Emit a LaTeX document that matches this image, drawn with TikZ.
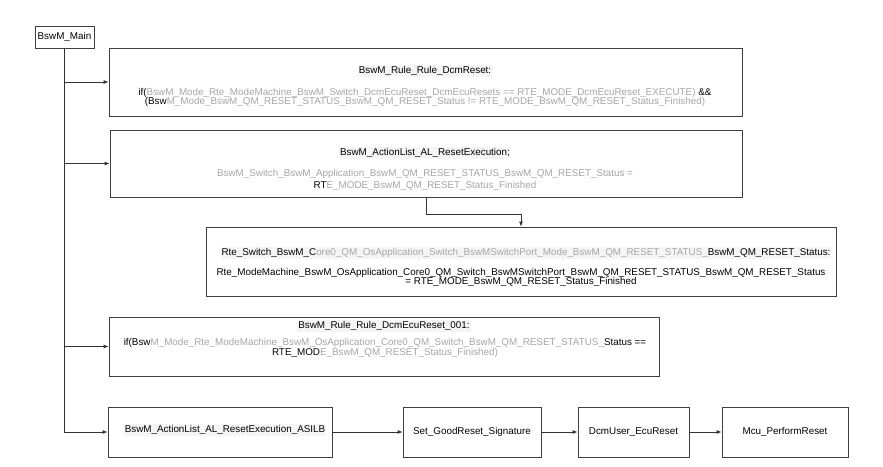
\documentclass[tikz,border=0pt]{standalone}
\usepackage{fontspec}
\setmainfont{Liberation Sans}
\usetikzlibrary{arrows.meta}
\newcommand{\blurtxt}[1]{{\color{black!35}#1}}
\begin{document}
\begin{tikzpicture}[
        x=1pt, y=-1pt,
        >={Latex[length=5pt,width=4pt]},
        font=\fontsize{9.85}{10}\selectfont,
        box/.style={
            draw=black!75, line width=0.8pt, fill=white,
            inner sep=0pt
        },
        ttl/.style={fill=black!4, inner sep=1pt},
        body/.style={align=center, inner sep=0pt, font=\fontsize{9.85}{9.5}\selectfont},
        arr/.style={->, draw=black!80, line width=0.8pt}
    ]
    \useasboundingbox (0,0) rectangle (883,466);

    % 1. Nodo principal
    \node[box, minimum width=59pt, minimum height=22pt] (main) at (64.5,37) {BswM\_Main};

    % 2. Cajas de reglas y listas de acciones
    \node[box, minimum width=633pt, minimum height=68pt] (rule1) at (425.5,82) {};
    \node[box, minimum width=632pt, minimum height=67pt] (act1) at (426,163.5) {};
    \node[box, minimum width=630pt, minimum height=69pt] (rte) at (521,261.5) {};
    \node[box, minimum width=550pt, minimum height=59pt] (rule2) at (384,346.5) {};

    % 3. Cadena inferior
    \node[box, minimum width=224pt, minimum height=50pt] (asil) at (220,432) {};
    \node[box, minimum width=138pt, minimum height=50pt] (sig) at (472,432) {Set\_GoodReset\_Signature};
    \node[box, minimum width=111pt, minimum height=50pt] (dcm) at (633.5,432) {DcmUser\_EcuReset};
    \node[box, minimum width=126pt, minimum height=50pt] (mcu) at (785,432) {Mcu\_PerformReset};

    % 4. Textos de las cajas
    \node[ttl] (rule1t) at (425,71) {BswM\_Rule\_Rule\_DcmReset:};
    \node[body] (rule1b) at (425,97.5) {if(\blurtxt{BswM\_Mode\_Rte\_ModeMachine\_BswM\_Switch\_DcmEcuReset\_DcmEcuResets == RTE\_MODE\_DcmEcuReset\_EXECUTE)} \&\&\\
        (Bsw\blurtxt{M\_Mode\_BswM\_QM\_RESET\_STATUS\_BswM\_QM\_RESET\_Status != RTE\_MODE\_BswM\_QM\_RESET\_Status\_Finished)}};

    \node[ttl] (act1t) at (425,153) {BswM\_ActionList\_AL\_ResetExecution;};
    \node[body] (act1b) at (425,180) {\blurtxt{BswM\_Switch\_BswM\_Application\_BswM\_QM\_RESET\_STATUS\_BswM\_QM\_RESET\_Status =}\\[2pt]
        RT\blurtxt{E\_MODE\_BswM\_QM\_RESET\_Status\_Finished}};

    \node[ttl] (rtet) at (526,253) {Rte\_Switch\_BswM\_C\blurtxt{ore0\_QM\_OsApplication\_Switch\_BswMSwitchPort\_Mode\_BswM\_QM\_RESET\_STATUS\_}BswM\_QM\_RESET\_Status:};
    \node[body] (rteb) at (521,277.5) {Rte\_ModeMachine\_BswM\_OsApplication\_Core0\_QM\_Switch\_BswMSwitchPort\_BswM\_QM\_RESET\_STATUS\_BswM\_QM\_RESET\_Status\\
        = RTE\_MODE\_BswM\_QM\_RESET\_Status\_Finished};

    \node[ttl] (rule2t) at (384,326) {BswM\_Rule\_Rule\_DcmEcuReset\_001:};
    \node[body] (rule2b) at (385,348) {if(Bsw\blurtxt{M\_Mode\_Rte\_ModeMachine\_BswM\_OsApplication\_Core0\_QM\_Switch\_BswM\_QM\_RESET\_STATUS\_}Status ==\\
        RTE\_MOD\blurtxt{E\_BswM\_QM\_RESET\_Status\_Finished)}};

    \node[ttl] (asilt) at (225,430) {BswM\_ActionList\_AL\_ResetExecution\_ASILB};

    % 5. Conexiones desde BswM_Main
    \draw[arr] (main.south) |- (rule1.west);
    \draw[arr] (main.south) |- (act1.west);
    \draw[arr] (main.south) |- (rule2.west);
    \draw[arr] (main.south) |- (asil.west);

    % 6. Lista de acciones hacia Rte_Switch
    \draw[arr] (act1.south) -- ++(0,17) -| (rte.north);

    % 7. Flechas de la cadena inferior
    \draw[arr] (asil.east) -- (sig.west);
    \draw[arr] (sig.east) -- (dcm.west);
    \draw[arr] (dcm.east) -- (mcu.west);

\end{tikzpicture}
\end{document}
